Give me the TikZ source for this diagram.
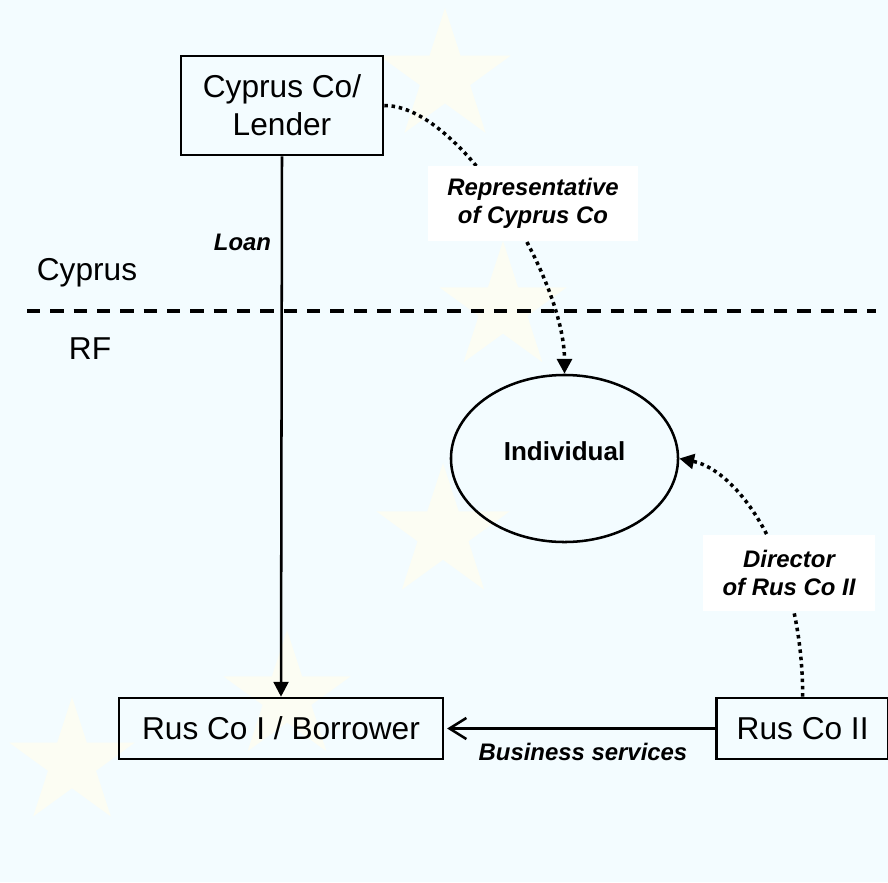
\documentclass[tikz,border=0pt]{standalone}
\usepackage{fontspec}
\setmainfont{Liberation Sans}
\usetikzlibrary{arrows.meta,positioning,shapes.geometric}
\definecolor{bgblue}{RGB}{243,252,255}
\definecolor{starcol}{RGB}{252,253,243}

\begin{document}
\begin{tikzpicture}[x=0.025cm, y=-0.025cm,
  box/.style={draw, line width=1.8pt, font=\fontsize{22.5}{27}\selectfont, align=center, inner sep=0pt},
  lbl/.style={font=\fontsize{17}{20}\selectfont\bfseries\itshape, align=center, inner sep=0pt},
  tag/.style={lbl, fill=white},
  bgstar/.style={star, star points=5, star point ratio=2.618, fill=starcol, inner sep=0pt},
  dots/.style={line width=2.5pt, dash pattern=on 2.5pt off 2.7pt},
  tri/.style={-{Triangle[length=10.5pt,width=10.5pt]}}]
  % background with the faint stars
  \fill[bgblue] (0,0) rectangle (888,882);
  \useasboundingbox (0,0) rectangle (888,882);
  \node[bgstar, minimum size=3.45cm] (s1) at (445,77) {};
  \node[bgstar, minimum size=3.35cm] (s2) at (503,308) {};
  \node[bgstar, minimum size=3.5cm] (s3) at (443,533) {};
  \node[bgstar, minimum size=3.35cm] (s4) at (287,697) {};
  \node[bgstar, minimum size=3.3cm] (s5) at (72,763) {};

  % border between the two countries
  \coordinate (bl) at (27,311);
  \coordinate (br) at (876,311);
  \draw[line width=2.3pt, dash pattern=on 9.5pt off 7.1pt] (bl) -- (br);
  \node[font=\fontsize{22.5}{27}\selectfont] (cy) at (87,273) {Cyprus};
  \node[font=\fontsize{22.5}{27}\selectfont] (rf) at (90,349) {RF};

  \node[box, minimum width=5.05cm, minimum height=2.475cm] (lender) at (282,105.5) {Cyprus Co/\\Lender};
  \node[box, minimum width=8.1cm, minimum height=1.525cm] (borrower) at (281,728.5) {Rus Co I / Borrower};
  \node[box, minimum width=4.3cm, minimum height=1.525cm, right=6.775cm of borrower] (rusii) {Rus Co II};
  \node[ellipse, draw, line width=1.8pt, minimum width=5.675cm, minimum height=4.175cm,
    font=\fontsize{18.5}{22}\selectfont\bfseries, text depth=11pt] (indiv) at (564.5,458.5) {Individual};

  \draw[tri, line width=1.8pt] (lender.south) -- (borrower.north);
  \node[lbl] (loan) at (242.5,242) {Loan};
  \draw[line width=1.8pt, -{Straight Barb[length=12pt,width=15pt]}, shorten >=2pt] (rusii) -- (borrower);
  \node[lbl] (biz) at (583,752) {Business services};

  \draw[dots, tri] (lender.east) .. controls +(77,0) and +(0,-95) .. (indiv.north);
  \draw[dots, tri] (rusii.north) .. controls +(0,-138) and +(59,12) .. (indiv.east);
  \node[tag, minimum width=5.25cm, minimum height=1.875cm] (rep) at (533,203.5) {Representative\\of Cyprus Co};
  \node[tag, minimum width=4.3cm, minimum height=1.9cm] (dir) at (789,573) {Director\\of Rus Co II};
\end{tikzpicture}
\end{document}
